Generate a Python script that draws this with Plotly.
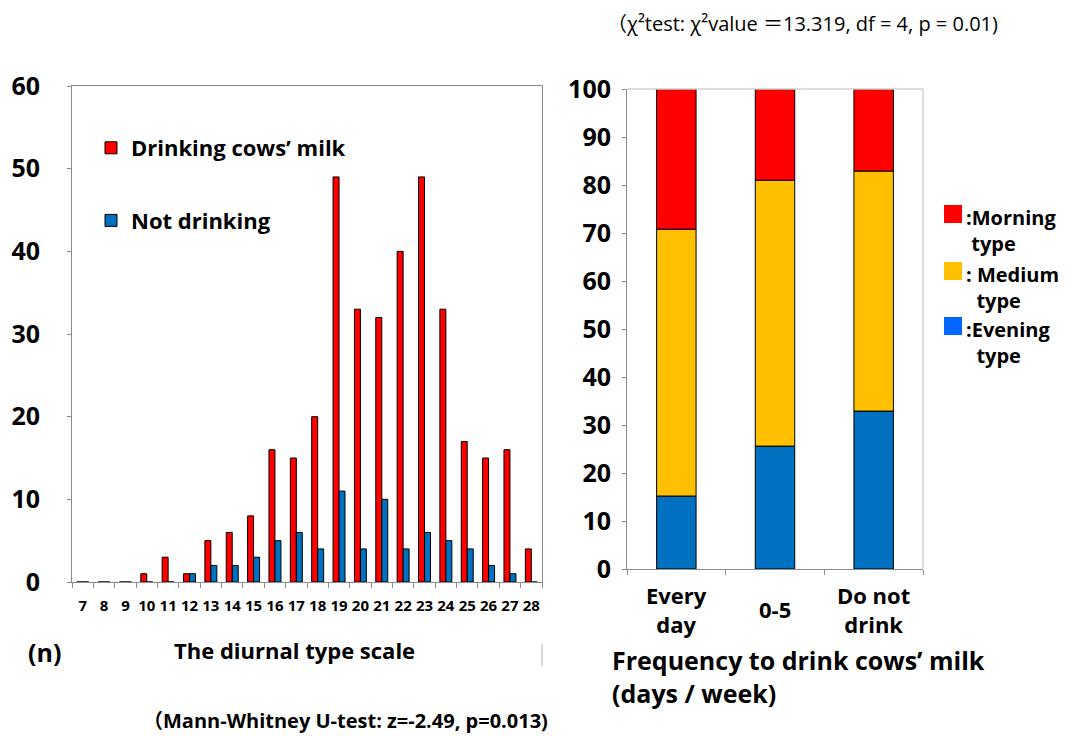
import plotly.graph_objects as go

# ---------------- data ----------------
scale_labels = ["7", "8", "9", "10", "11", "12", "13", "14", "15", "16", "17",
                "18", "19", "20", "21", "22", "23", "24", "25", "26", "27", "28"]
drinking = [0, 0, 0, 1, 3, 1, 5, 6, 8, 16, 15, 20, 49, 33, 32, 40, 49, 33, 17, 15, 16, 4]
not_drinking = [0, 0, 0, 0, 0, 1, 2, 2, 3, 5, 6, 4, 11, 4, 10, 4, 6, 5, 4, 2, 1, 0]
series_names = ["Drinking cows’ milk", "Not drinking"]

freq_labels = ["Every day", "0-5", "Do not drink"]
freq_ticktext = ["Every<br>day", "0-5", "Do not<br>drink"]
evening = [15.2, 25.6, 32.9]
medium = [55.6, 55.4, 50.0]
morning = [29.2, 19.0, 17.1]
type_names = ["Morning", "Medium", "Evening"]
type_legend_text = [":Morning<br>&nbsp;type", ":&nbsp;Medium<br>&nbsp;&nbsp;type",
                    ":Evening<br>&nbsp;&nbsp;type"]

left_ticks = [0, 10, 20, 30, 40, 50, 60]
right_ticks = [0, 10, 20, 30, 40, 50, 60, 70, 80, 90, 100]

RED = "#FF0000"
ORANGE = "#FFC000"
BLUE = "#0070C0"
LEGEND_BLUE = "#0066FF"

FONT = "'Open Sans', 'Noto Sans', 'Noto Sans CJK JP', sans-serif"
OFF = 8                      # page body margin
W, H = 1081 - OFF, 736 - OFF

fig = go.Figure()

# ---------------- left chart ----------------
bw = 0.28
fig.add_trace(go.Bar(x=scale_labels, y=drinking, name=series_names[0],
                     marker=dict(color=RED, line=dict(color="black", width=1)),
                     width=bw, offset=-bw, xaxis="x", yaxis="y",
                     legendgroup="a", showlegend=True))
fig.add_trace(go.Bar(x=scale_labels, y=not_drinking, name=series_names[1],
                     marker=dict(color=BLUE, line=dict(color="black", width=1)),
                     width=bw, offset=0, xaxis="x", yaxis="y",
                     legendgroup="b", showlegend=True))

# ---------------- right chart (stacked via base) ----------------
base_medium = evening
base_morning = [e + m for e, m in zip(evening, medium)]
for vals, base, col, nm in [(evening, None, BLUE, type_names[2]),
                            (medium, base_medium, ORANGE, type_names[1]),
                            (morning, base_morning, RED, type_names[0])]:
    fig.add_trace(go.Bar(x=freq_labels, y=vals, base=base, name=nm,
                         marker=dict(color=col, line=dict(color="black", width=1)),
                         width=0.4, offset=-0.2, xaxis="x2", yaxis="y2",
                         showlegend=False))


def px_x(p):
    return (p - OFF) / W


def px_y(p):
    return (H - (p - OFF)) / H


axis_font = dict(family=FONT, size=25, color="black", weight="bold")

fig.update_layout(
    width=W, height=H, autosize=False,
    margin=dict(l=0, r=0, t=0, b=0, pad=0),
    paper_bgcolor="white", plot_bgcolor="white",
    barmode="overlay",
    font=dict(family=FONT, color="black"),
    xaxis=dict(domain=[px_x(72), px_x(542)], anchor="y", type="category",
               automargin=False, tickangle=0,
               showline=True, linecolor="#8c8c8c", linewidth=1, mirror=True,
               ticks="outside", tickson="boundaries", ticklen=5, tickcolor="#8c8c8c",
               tickfont=dict(family=FONT, size=15, color="black", weight="bold"),
               ticklabelstandoff=10, showgrid=False, zeroline=False),
    yaxis=dict(domain=[px_y(582), px_y(86)], anchor="x", range=[0, 60],
               automargin=False,
               tickvals=left_ticks, showline=True, linecolor="#8c8c8c", linewidth=1,
               mirror=True, ticks="outside", ticklen=4, tickcolor="#8c8c8c",
               tickfont=axis_font, ticklabelstandoff=22,
               showgrid=False, zeroline=False),
    xaxis2=dict(domain=[px_x(627), px_x(923)], anchor="y2", type="category",
                automargin=False,
                showline=True, linecolor="#8c8c8c", linewidth=1,
                ticks="outside", tickson="boundaries", ticklen=5, tickcolor="#8c8c8c",
                showticklabels=False, showgrid=False, zeroline=False),
    yaxis2=dict(domain=[px_y(569), px_y(89)], anchor="x2", range=[0, 100],
                automargin=False,
                tickvals=right_ticks, showline=True, linecolor="#8c8c8c", linewidth=1,
                ticks="outside", ticklen=4, tickcolor="#8c8c8c",
                tickfont=axis_font, ticklabelstandoff=6,
                showgrid=False, zeroline=False),
    legend=dict(x=px_x(91), y=px_y(127), xanchor="left", yanchor="top",
                bgcolor="rgba(0,0,0,0)", tracegroupgap=41,
                font=dict(family=FONT, size=22, color="black", weight="bold")),
)

# light frame on top / right of the right chart
fig.add_shape(type="line", xref="x2 domain", yref="y2 domain", x0=0, x1=1, y0=1, y1=1,
              line=dict(color="#d0d0d0", width=1.5))
fig.add_shape(type="line", xref="x2 domain", yref="y2 domain", x0=1, x1=1, y0=0, y1=1,
              line=dict(color="#d0d0d0", width=1.5))
# small stray separator line
fig.add_shape(type="line", xref="paper", yref="paper", x0=px_x(542), x1=px_x(542),
              y0=px_y(644), y1=px_y(666), line=dict(color="#b0b0b0", width=1))

# right x category labels
for cat, txt in zip(freq_labels, freq_ticktext):
    fig.add_annotation(x=cat, xref="x2", y=px_y(609), yref="paper", text=txt,
                       showarrow=False, xanchor="center", yanchor="middle",
                       font=dict(family=FONT, size=22, color="black", weight="bold"))

# right legend (swatches + text)
sw_cols = [RED, ORANGE, LEGEND_BLUE]
sw_top = [205, 262, 317]
for col, top, txt in zip(sw_cols, sw_top, type_legend_text):
    fig.add_shape(type="rect", xref="paper", yref="paper",
                  x0=px_x(944), x1=px_x(962), y0=px_y(top), y1=px_y(top + 18),
                  fillcolor=col, line=dict(width=0))
    fig.add_annotation(x=px_x(964), y=px_y(top - 3), xref="paper", yref="paper",
                       text=txt, showarrow=False, xanchor="left", yanchor="top",
                       align="left",
                       font=dict(family=FONT, size=20, color="black", weight="bold"))

# texts
fig.add_annotation(x=px_x(606), y=px_y(9), xref="paper", yref="paper",
                   text="（χ²test: χ²value ＝13.319, df = 4, p = 0.01)",
                   showarrow=False, xanchor="left", yanchor="top", borderpad=0,
                   font=dict(family=FONT, size=20, color="black"))
fig.add_annotation(x=px_x(26), y=px_y(652), xref="paper", yref="paper",
                   text="(n)", showarrow=False, xanchor="left", yanchor="middle",
                   font=dict(family=FONT, size=25, color="black", weight="bold"))
fig.add_annotation(x=px_x(294), y=px_y(650), xref="paper", yref="paper",
                   text="The diurnal type scale", showarrow=False,
                   xanchor="center", yanchor="middle",
                   font=dict(family=FONT, size=22, color="black", weight="bold"))
fig.add_annotation(x=px_x(141), y=px_y(720), xref="paper", yref="paper",
                   text="（Mann-Whitney U-test: z=-2.49, p=0.013)", showarrow=False,
                   xanchor="left", yanchor="middle",
                   font=dict(family=FONT, size=20, color="black", weight="bold"))
fig.add_annotation(x=px_x(610), y=px_y(676), xref="paper", yref="paper",
                   text="Frequency to drink cows’ milk<br>(days / week)", showarrow=False,
                   xanchor="left", yanchor="middle", align="left",
                   font=dict(family=FONT, size=25, color="black", weight="bold"))

fig.write_html("out.html")
